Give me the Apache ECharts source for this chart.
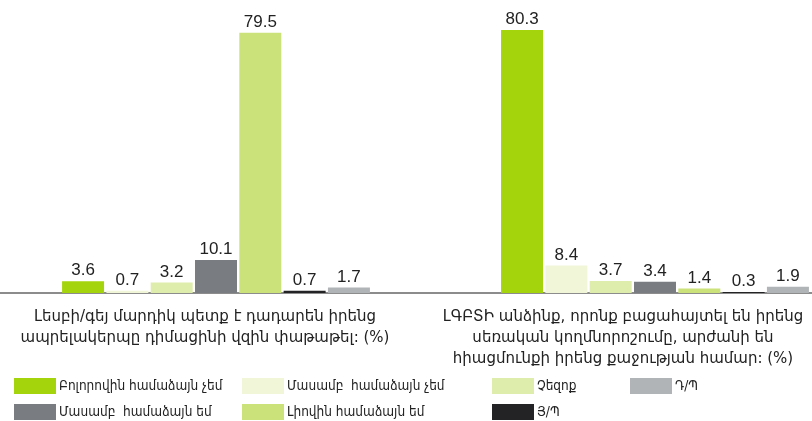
<!DOCTYPE html>
<html>
<head>
<meta charset="utf-8">
<script src="https://cdn.jsdelivr.net/npm/echarts@6/dist/echarts.min.js"></script>
<style>
  html, body { margin: 0; padding: 0; background: #fff; }
  #chart { width: 812px; height: 421px; }
</style>
</head>
<body>
<div id="chart"></div>
<script>
// categories (the two questions)
const categories = [
  'Լեսբի/գեյ մարդիկ պետք է դադարեն իրենց\nապրելակերպը դիմացինի վզին փաթաթել: (%)',
  'ԼԳԲՏԻ անձինք, որոնք բացահայտել են իրենց\nսեռական կողմնորոշումը, արժանի են\nհիացմունքի իրենց քաջության համար: (%)'
];
// answer options (series names), in bar order
const answers = [
  'Բոլորովին համաձայն չեմ',
  'Մասամբ  համաձայն չեմ',
  'Չեզոք',
  'Մասամբ  համաձայն եմ',
  'Լիովին համաձայն եմ',
  'Յ/Պ',
  'Դ/Պ'
];
const colors = ['#a4d40b', '#f2f6d8', '#dfedac', '#797c80', '#cbe27a', '#232326', '#b0b4b6'];
// values per answer: [question 1, question 2]
const stronglyDisagree = [3.6, 80.3];
const partlyDisagree   = [0.7, 8.4];
const neutral          = [3.2, 3.7];
const partlyAgree      = [10.1, 3.4];
const stronglyAgree    = [79.5, 1.4];
const refused          = [0.7, 0.3];
const dontKnow         = [1.7, 1.9];
const values = [stronglyDisagree, partlyDisagree, neutral, partlyAgree, stronglyAgree, refused, dontKnow];

const armFont = 'DejaVu Sans';
const chart = echarts.init(document.getElementById('chart'));

const seriesList = answers.map((name, i) => ({
  type: 'bar',
  name: name,
  data: values[i],
  barWidth: 42,
  barGap: '5.5%',
  itemStyle: { color: colors[i] },
  label: {
    show: true,
    position: 'top',
    distance: 2,
    color: '#222',
    fontSize: 17,
    fontFamily: 'Liberation Sans'
  }
}));

// legend columns, laid out like the original
const legendCols = [
  { left: 14, items: [answers[0], answers[3]] },
  { left: 242, items: [answers[1], answers[4]] },
  { left: 492, items: [answers[2], answers[5]] },
  { left: 630, items: [answers[6]] }
];

const option = {
  animation: false,
  title: [
    { text: categories[0], left: 205, top: 307 },
    { text: categories[1], left: 623, top: 307 }
  ].map(t => ({
    text: t.text, left: t.left, top: t.top, textAlign: 'center', padding: 0,
    textStyle: { fontFamily: armFont, fontSize: 15, fontWeight: 'normal', color: '#222', lineHeight: 21 }
  })),
  legend: legendCols.map(c => ({
    data: c.items,
    orient: 'vertical',
    left: c.left,
    top: 378,
    padding: 0,
    itemWidth: 42,
    itemHeight: 16,
    itemGap: 10,
    icon: 'rect',
    selectedMode: false,
    textStyle: { fontFamily: 'DejaVu Sans Condensed', fontSize: 13.5, color: '#222', padding: [0, 0, 0, -2] }
  })),
  grid: { left: -3.5, width: 878, top: 18, height: 275, outerBoundsMode: 'none' },
  xAxis: {
    type: 'category',
    data: categories,
    axisLine: { lineStyle: { color: '#8c8c8c', width: 2 } },
    axisTick: { show: false },
    axisLabel: { show: false }
  },
  yAxis: {
    type: 'value',
    min: 0,
    max: 84,
    show: false,
    splitLine: { show: false }
  },
  series: seriesList
};
chart.setOption(option);
</script>
</body>
</html>
